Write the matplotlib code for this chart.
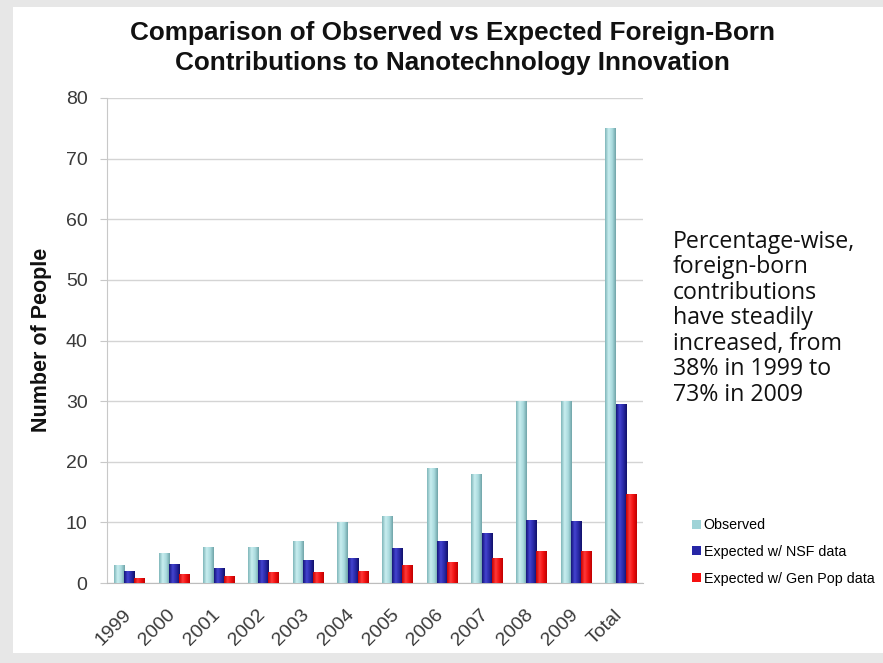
import matplotlib
matplotlib.use("Agg")
import matplotlib.pyplot as plt
import matplotlib.transforms as mtransforms
import numpy as np
from matplotlib.colors import LinearSegmentedColormap
from matplotlib.patches import Rectangle, Patch

# ---- data ----
categories = ["1999", "2000", "2001", "2002", "2003", "2004",
              "2005", "2006", "2007", "2008", "2009", "Total"]
observed = [3, 5, 6, 6, 7, 10, 11, 19, 18, 30, 30, 75]
expected_nsf = [1.9, 3.1, 2.5, 3.8, 3.8, 4.1, 5.8, 6.9, 8.2, 10.4, 10.2, 29.6]
expected_genpop = [0.9, 1.5, 1.1, 1.8, 1.8, 1.9, 3.0, 3.5, 4.1, 5.3, 5.2, 14.6]

series_labels = ["Observed", "Expected w/ NSF data", "Expected w/ Gen Pop data"]
title = "Comparison of Observed vs Expected Foreign-Born\nContributions to Nanotechnology Innovation"
note = ("Percentage-wise,\nforeign-born\ncontributions\nhave steadily\n"
        "increased, from\n38% in 1999 to\n73% in 2009")

# ---- styling ----
base_colors = ["#9fd3d7", "#2626a6", "#f51010"]
shade_stops = [
    ["#7fb6ba", "#c9eef0", "#a9dadd", "#6fa4a8"],
    ["#14147a", "#4444d0", "#2a2aa8", "#10106a"],
    ["#c80000", "#ff3a3a", "#f01010", "#c00000"],
]

W, H = 883, 663
fig = plt.figure(figsize=(W / 100, H / 100), dpi=100, facecolor="#e7e7e7")
fig.patches.append(Rectangle((13 / W, 10 / H), 1 - 13 / W, 646 / H,
                             transform=fig.transFigure, facecolor="white",
                             edgecolor="none", zorder=-5))

ax = fig.add_axes([107 / W, 80 / H, 536 / W, 485 / H])
ax.set_zorder(2)
ax.set_facecolor("none")

x = np.arange(len(categories))
bw = 0.23
offsets = [-bw, 0.0, bw]
all_series = [observed, expected_nsf, expected_genpop]

for s, (vals, off) in enumerate(zip(all_series, offsets)):
    bars = ax.bar(x + off, vals, width=bw, color=base_colors[s],
                  edgecolor="none", zorder=3)
    cmap = LinearSegmentedColormap.from_list(f"shade{s}", shade_stops[s])
    grad = np.linspace(0, 1, 64).reshape(1, -1)
    for b in bars:
        x0, y0 = b.get_x(), b.get_y()
        w, h = b.get_width(), b.get_height()
        im = ax.imshow(grad, cmap=cmap, aspect="auto",
                       extent=(x0, x0 + w, y0, y0 + h), zorder=4,
                       interpolation="bilinear")
        im.set_clip_path(b)

ax.set_xlim(-0.5, len(categories) - 0.5)
ax.set_ylim(0, 80)
ax.set_yticks(np.arange(0, 81, 10))
ax.set_xticks(x)
ax.set_xticklabels(categories, rotation=45, ha="right", va="top",
                   rotation_mode="anchor")

ax.grid(axis="y", color="#d4d4d4", linewidth=1.0, zorder=0)
ax.set_axisbelow(True)
for side in ["top", "right"]:
    ax.spines[side].set_visible(False)
ax.spines["left"].set_color("#c8c8c8")
ax.spines["bottom"].set_color("#bdbdbd")
ax.tick_params(axis="y", length=5, color="#c8c8c8", pad=9,
               labelsize=14, labelcolor="#3a3a3a")
ax.tick_params(axis="x", length=0, pad=8, labelsize=14, labelcolor="#3a3a3a")
for lbl in ax.get_yticklabels():
    lbl.set_fontfamily("Liberation Sans")
shift = mtransforms.ScaledTranslation(-0.07, -0.12, fig.dpi_scale_trans)
for lbl in ax.get_xticklabels():
    lbl.set_fontfamily("Liberation Sans")
    lbl.set_transform(lbl.get_transform() + shift)

fig.text(452 / W, 1 - 48 / H, title, ha="center", va="center",
         fontsize=18.8, fontweight="bold", family="Liberation Sans",
         linespacing=1.3, color="#111111")

fig.text(42 / W, 1 - 340 / H, "Number of People", rotation=90,
         ha="center", va="center", fontsize=15.5, fontweight="bold",
         family="Liberation Sans", color="#111111")

fig.text(673 / W, 1 - 230 / H, note, ha="left", va="top", fontsize=16.7,
         family="Open Sans", linespacing=1.08, color="#111111")

handles = [Patch(facecolor=c, edgecolor="none") for c in base_colors]
fig.legend(handles, series_labels, loc="center left",
           bbox_to_anchor=(685 / W, 1 - 552 / H), frameon=False,
           handlelength=0.6, handleheight=0.6,
           handletextpad=0.2, labelspacing=0.88, borderpad=0,
           prop={"family": "Liberation Sans", "size": 10.3})

fig.savefig("out.png", dpi=100, facecolor=fig.get_facecolor())
